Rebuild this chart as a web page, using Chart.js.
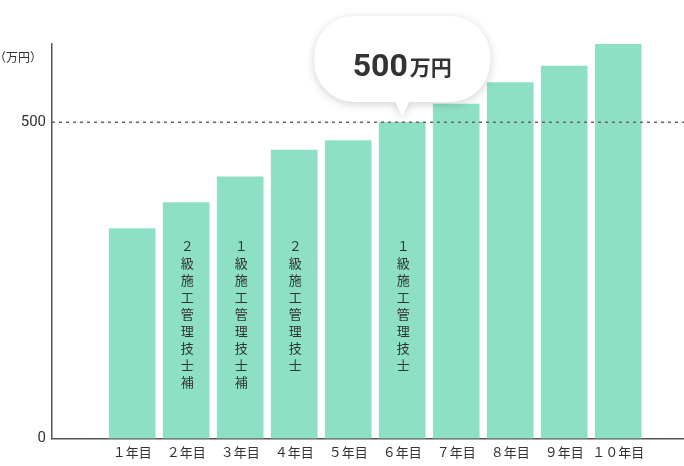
<!DOCTYPE html>
<html><head><meta charset="utf-8">
<script src="https://cdn.jsdelivr.net/npm/chart.js@4"></script>
<style>html,body{margin:0;padding:0;background:#fff}#w{width:684px;height:466px}</style>
</head><body><div id="w"><canvas id="c"></canvas></div>
<script>
const categories = ["１年目","２年目","３年目","４年目","５年目","６年目","７年目","８年目","９年目","１０年目"];
const salaries = [332,373,414,456,471,500,529,563,589,624];
const yTicks = [0,500];
const barLabels = ["","２級施工管理技士補","１級施工管理技士補","２級施工管理技士","","１級施工管理技士","","","",""];
const calloutIndex = 5;
const FONT = "'Noto Sans CJK JP', Roboto, sans-serif";

const extras = {
  id:'extras',
  afterDatasetsDraw(ch){
    const {ctx, scales:{x,y}, chartArea:a} = ch;
    ctx.save();
    const y5 = y.getPixelForValue(500);
    ctx.strokeStyle='#666'; ctx.lineWidth=1.5; ctx.setLineDash([3,4]);
    ctx.beginPath(); ctx.moveTo(a.left,y5); ctx.lineTo(684,y5); ctx.stroke();
    ctx.setLineDash([]);
    ctx.fillStyle='#333'; ctx.font="12px "+FONT; ctx.textAlign='left'; ctx.textBaseline='middle';
    ctx.fillText("（万円）",-6,57);
    ctx.font="13px "+FONT; ctx.textAlign='center'; ctx.textBaseline='top';
    barLabels.forEach((t,i)=>{
      if(!t) return;
      const cx = x.getPixelForValue(i)+1; let cy = 240;
      for(const chr of t){ ctx.fillText(chr,cx,cy); cy+=17; }
    });
    const bx = x.getPixelForValue(calloutIndex), by = y.getPixelForValue(salaries[calloutIndex]);
    const L=bx-88,R=bx+88,T=16,B=102,r=40;
    ctx.shadowColor='rgba(0,0,0,0.18)'; ctx.shadowBlur=10; ctx.shadowOffsetY=2;
    ctx.fillStyle='#fff';
    ctx.beginPath();
    ctx.moveTo(L+r,T); ctx.lineTo(R-r,T); ctx.arcTo(R,T,R,T+r,r); ctx.arcTo(R,B,R-r,B,r);
    ctx.lineTo(bx+7,B); ctx.lineTo(bx,by-6); ctx.lineTo(bx-7,B);
    ctx.lineTo(L+r,B); ctx.arcTo(L,B,L,B-r,r); ctx.arcTo(L,T,L+r,T,r); ctx.closePath(); ctx.fill();
    ctx.shadowColor='transparent';
    ctx.fillStyle='#333'; ctx.textBaseline='alphabetic'; ctx.textAlign='left';
    ctx.font="bold 32px Roboto, sans-serif";
    const s1=String(salaries[calloutIndex]); const w1=ctx.measureText(s1).width;
    ctx.font="bold 21px "+FONT; const w2=ctx.measureText("万円").width;
    const sx=bx-(w1+w2+2)/2;
    ctx.font="bold 32px Roboto, sans-serif"; ctx.fillText(s1,sx,76);
    ctx.font="bold 21px "+FONT; ctx.fillText("万円",sx+w1+2,75);
    ctx.restore();
  }
};

new Chart(document.getElementById('c'),{
  type:'bar',
  data:{datasets:[{data:salaries.map((v,i)=>({x:i,y:v})),backgroundColor:'#8de0c4',barThickness:46}]},
  options:{
    responsive:true,maintainAspectRatio:false,animation:false,
    layout:{padding:{top:44,right:0,bottom:0,left:0}},
    plugins:{legend:{display:false},tooltip:{enabled:false}},
    scales:{
      x:{type:'linear',min:-0.9,max:9.633,
        afterBuildTicks:s=>{s.ticks=categories.map((_,i)=>({value:i}));},
        afterFit:s=>{s.paddingLeft=0;s.paddingRight=0;},
        ticks:{autoSkip:false,maxRotation:0,color:'#333',font:{size:13,family:FONT},padding:6,callback:v=>categories[v]},
        grid:{display:false,drawTicks:false},border:{color:'#555',width:1.5}},
      y:{min:0,max:624,
        afterBuildTicks:s=>{s.ticks=yTicks.map(v=>({value:v}));},
        afterFit:s=>{s.width=52;s.paddingTop=0;s.paddingBottom=0;},
        ticks:{color:'#333',font:{size:15,family:'Roboto, sans-serif'},padding:6},
        grid:{display:false,drawTicks:false},border:{color:'#555',width:1.5}}
    }
  },
  plugins:[extras]
});
</script></body></html>
